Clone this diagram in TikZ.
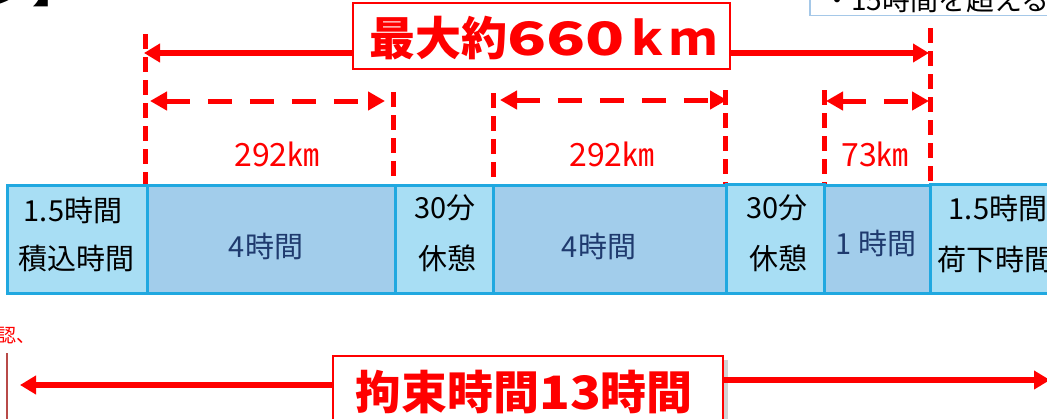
\documentclass[tikz,border=0pt]{standalone}
\usepackage{fontspec}
\newfontfamily\jp{Noto Sans CJK JP}
\usetikzlibrary{arrows.meta,shadows}
\definecolor{rd}{HTML}{FF0000}
\definecolor{lightb}{HTML}{A8DEF4}
\definecolor{darkb}{HTML}{A2CDEB}
\definecolor{bbord}{HTML}{20A8E0}
\definecolor{navy}{HTML}{1F3A6E}
\definecolor{tbord}{HTML}{A5C8E8}
\definecolor{thinred}{HTML}{B84A48}
\begin{document}
\begin{tikzpicture}[x=1pt,y=-1pt,
  lblock/.style={draw=bbord, line width=3pt, fill=lightb, anchor=north west, inner sep=0pt, outer sep=0pt},
  dblock/.style={lblock, fill=darkb},
  vdash/.style={draw=rd, line width=5pt, dash pattern=on 15pt off 8pt},
  harrow/.style={draw=rd, line width=5.5pt, -{Triangle[length=16pt,width=18pt]}},
  dharrow/.style={draw=rd, line width=5pt, dash pattern=on 24pt off 18pt, {Triangle[length=17pt,width=18pt]}-{Triangle[length=17pt,width=18pt]}},
  btext/.style={font=\jp\fontsize{29}{32}\selectfont, text=black, inner sep=0pt},
  ntext/.style={font=\jp\fontsize{29}{32}\selectfont, text=navy, inner sep=0pt},
  kmtext/.style={font=\jp\fontsize{32}{36}\selectfont, text=rd, inner sep=0pt},
  bigbox/.style={draw=rd, line width=1.6pt, fill=white, inner sep=0pt, font=\jp\bfseries\fontsize{46}{50}\selectfont, text=rd}
]
\useasboundingbox (0,0) rectangle (1047,418);

% top-left partial title
\node[anchor=base west, inner sep=0pt, font=\jp\bfseries\fontsize{46}{50}\selectfont] (ttl) at (-14,2) {ジ】};

% top-right partial note box
\node[draw=tbord, line width=1.5pt, fill=white, minimum width=260pt, minimum height=50pt, anchor=south west, inner sep=0pt] (trbox) at (809,16) {};
\node[anchor=base west, inner sep=0pt, font=\jp\fontsize{28}{30}\selectfont] (trtext) at (823,10) {・15時間を超える};

% vertical dashed guides
\coordinate (v1t) at (145,34);  \coordinate (v1b) at (145,186);
\coordinate (v2t) at (393,92);  \coordinate (v2b) at (393,186);
\coordinate (v3t) at (493,93);  \coordinate (v3b) at (493,186);
\coordinate (v4t) at (725,90);  \coordinate (v4b) at (725,186);
\coordinate (v5t) at (824,90);  \coordinate (v5b) at (824,186);
\coordinate (v6t) at (930,28);  \coordinate (v6b) at (930,186);
\foreach \i in {1,...,6} { \draw[vdash] (v\i t) -- (v\i b); }

% dashed distance arrows
\coordinate (d1l) at (150,101); \coordinate (d1r) at (385,101);
\coordinate (d2l) at (500,100); \coordinate (d2r) at (727,100);
\coordinate (d3l) at (826,101); \coordinate (d3r) at (929,101);
\draw[dharrow] (d1l) -- (d1r);
\draw[dharrow] (d2l) -- (d2r);
\draw[dharrow] (d3l) -- (d3r);

% top max box with arrows
\coordinate (al) at (144,53);
\coordinate (ar) at (929,53);
\node[bigbox, minimum width=377pt, minimum height=66pt] (maxbox) at (541.5,36) {};
\draw[harrow] (maxbox.west |- al) -- (al);
\draw[harrow] (maxbox.east |- ar) -- (ar);
\node[font=\jp\bfseries\fontsize{46}{50}\selectfont, text=rd, inner sep=0pt] (maxtext) at (543,38) {最大約\scalebox{1.4}[1]{660}ｋｍ};

% km labels
\node[kmtext] (km1) at (277,154) {292㎞};
\node[kmtext] (km2) at (612,154) {292㎞};
\node[kmtext] (km3) at (875,154) {73㎞};

% blocks
\node[dblock, minimum width=248pt, minimum height=108pt] (b2) at (147,185) {};
\node[dblock, minimum width=233pt, minimum height=108pt] (b4) at (493,185) {};
\node[dblock, minimum width=106pt, minimum height=108pt] (b6) at (824,185) {};
\node[lblock, minimum width=140pt, minimum height=108pt] (b1) at (7,185) {};
\node[lblock, minimum width=98pt, minimum height=108pt] (b3) at (395,185) {};
\node[lblock, minimum width=98pt, minimum height=109pt] (b5) at (726,184) {};
\node[lblock, minimum width=130pt, minimum height=109pt] (b7) at (930,184) {};

% block texts
\node[btext] (t1a) at (73,210) {1.5時間};
\node[btext] (t1b) at (76,259) {積込時間};
\node[ntext] (t2) at (266,246) {4時間};
\node[btext] (t3a) at (445,208) {30分};
\node[btext] (t3b) at (447,258) {休憩};
\node[ntext] (t4) at (599,246) {4時間};
\node[btext] (t5a) at (777,208) {30分};
\node[btext] (t5b) at (778,258) {休憩};
\node[ntext] (t6) at (876,243) {1 時間};
\node[btext] (t7a) at (998,208) {1.5時間};
\node[btext] (t7b) at (995,259) {荷下時間};

% bottom
\node[anchor=west, inner sep=0pt, font=\jp\fontsize{19}{22}\selectfont, text=rd] (conf) at (-3,336) {認、};
\coordinate (tht) at (7,353);
\coordinate (thb) at (7,420);
\draw[thinred, line width=1.5pt] (tht) -- (thb);

\coordinate (bl) at (20,385);
\coordinate (br) at (1050,380);
\node[bigbox, minimum width=390pt, minimum height=72pt, drop shadow={opacity=0.35, shadow xshift=5pt, shadow yshift=-4pt}] (kbox) at (528,392) {};
\draw[harrow] (kbox.west |- bl) -- (bl);
\draw[harrow] (kbox.east |- br) -- (br);
\node[font=\jp\bfseries\fontsize{46}{50}\selectfont, text=rd, inner sep=0pt] (ktext) at (524,392) {拘束時間\scalebox{1.1}[1]{13}時間};
\end{tikzpicture}
\end{document}
